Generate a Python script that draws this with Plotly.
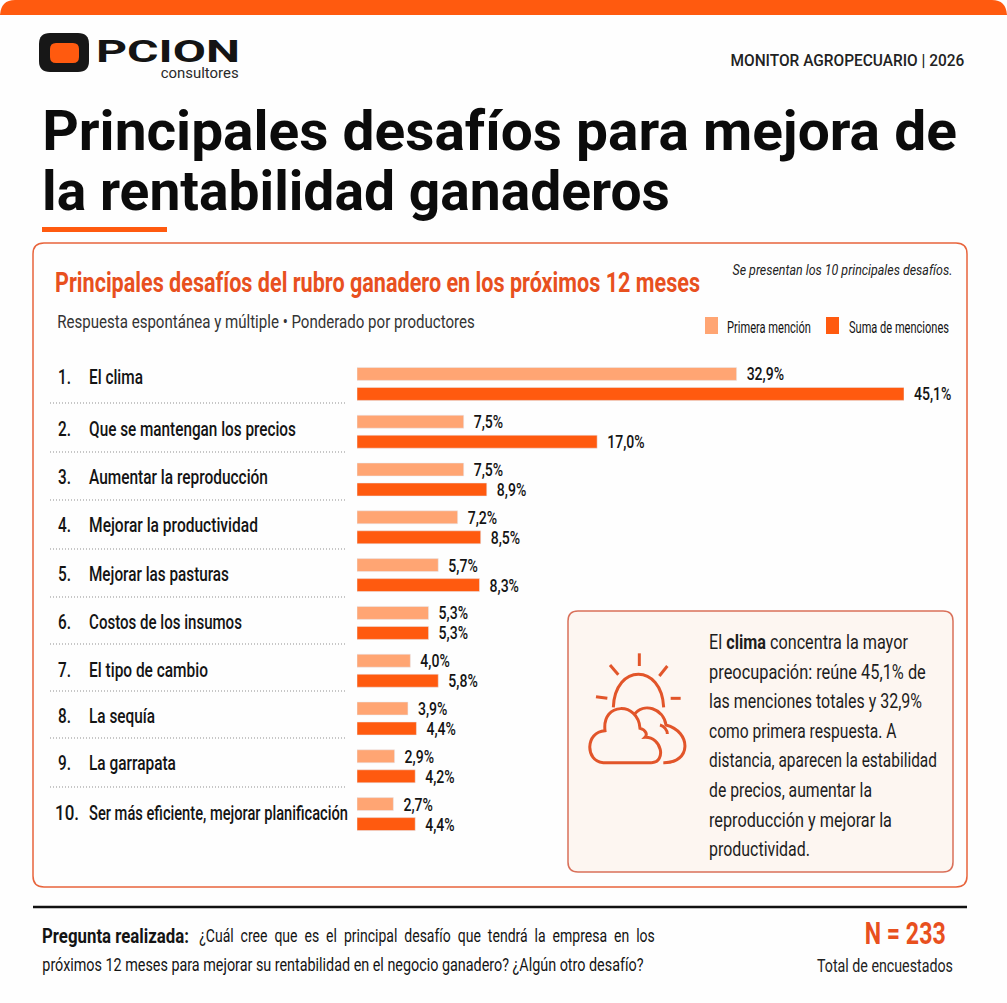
import plotly.graph_objects as go

W, H = 1007, 1003
ORANGE = "#FF5A0F"
PEACH = "#FFA573"
EDGE = "#E8643C"
INK = "#141414"

categorias = ["El clima", "Que se mantengan los precios", "Aumentar la reproducción",
              "Mejorar la productividad", "Mejorar las pasturas", "Costos de los insumos",
              "El tipo de cambio", "La sequía", "La garrapata",
              "Ser más eficiente, mejorar planificación"]
# Printed values (used for the labels)
primera_mencion = [32.9, 7.5, 7.5, 7.2, 5.7, 5.3, 4.0, 3.9, 2.9, 2.7]
suma_menciones = [45.1, 17.0, 8.9, 8.5, 8.3, 5.3, 5.8, 4.4, 4.2, 4.4]
# Bar lengths as drawn in the source, which is not strictly proportional to its labels
# (read on an axis where the longest bar equals 45.1)
primera_dibujada = [31.3, 8.8, 8.8, 8.3, 6.7, 5.9, 4.4, 4.2, 3.1, 3.0]
suma_dibujada = [45.1, 19.8, 10.7, 10.2, 10.1, 5.9, 6.7, 4.9, 4.8, 4.8]
texto_recuadro = ["El <b>clima</b> concentra la mayor", "preocupación: reúne 45,1% de",
                  "las menciones totales y 32,9%", "como primera respuesta. A",
                  "distancia, aparecen la estabilidad", "de precios, aumentar la",
                  "reproducción y mejorar la", "productividad."]
# Layout only: rendered widths of the condensed texts, in pixels
anchos_filas = [54, 207, 179, 169, 140, 153, 119, 66, 87, 259]
anchos_recuadro = [199, 217, 213, 188, 228, 163, 183, 101]


def fam(width, anchor):
    # Roboto is squeezed horizontally to a target width by the script at the end of the page
    return f"Roboto, w{width}{anchor[0]}"


def fmt(v):
    return "\u00a0\u00a0" + f"{v:.1f}%".replace(".", ",")


def X(p):
    return p / W


def Y(p):
    return 1 - p / H


def rrect(x0, y0, x1, y1, r, **kw):
    p = (f"M {X(x0+r)} {Y(y0)} L {X(x1-r)} {Y(y0)} Q {X(x1)} {Y(y0)} {X(x1)} {Y(y0+r)} "
         f"L {X(x1)} {Y(y1-r)} Q {X(x1)} {Y(y1)} {X(x1-r)} {Y(y1)} "
         f"L {X(x0+r)} {Y(y1)} Q {X(x0)} {Y(y1)} {X(x0)} {Y(y1-r)} "
         f"L {X(x0)} {Y(y0+r)} Q {X(x0)} {Y(y0)} {X(x0+r)} {Y(y0)} Z")
    return dict(type="path", path=p, xref="paper", yref="paper", **kw)


def rect(x0, y0, x1, y1, color):
    return dict(type="rect", xref="paper", yref="paper", x0=X(x0), x1=X(x1), y0=Y(y0), y1=Y(y1),
                fillcolor=color, line_width=0, layer="below")


def hline(x0, x1, y, color, width, dash="solid"):
    return dict(type="line", xref="paper", yref="paper", x0=X(x0), x1=X(x1), y0=Y(y), y1=Y(y),
                line=dict(color=color, width=width, dash=dash), layer="below")


def icon(points, color="#E2552A", width=3):
    parts = []
    for cmd, *vals in points:
        coords = []
        for i in range(0, len(vals), 2):
            coords += [str(X(560 + vals[i] / 3)), str(Y(600 + vals[i + 1] / 3))]
        parts.append(cmd + " " + " ".join(coords))
    return dict(type="path", path=" ".join(parts), xref="paper", yref="paper",
                line=dict(color=color, width=width))


def T(x, y, text, size, width, color=INK, anchor="left", **kw):
    return dict(xref="paper", yref="paper", x=X(x), y=Y(y), text=text, showarrow=False,
                xanchor=anchor, yanchor="middle", borderpad=0,
                font=dict(size=size, color=color, family=fam(width, anchor), **kw))


fig = go.Figure()
fig.add_bar(name="Primera mención", y=categorias, x=primera_dibujada, orientation="h",
            marker_color=PEACH, text=[fmt(v) for v in primera_mencion], textposition="outside",
            cliponaxis=False, constraintext="none",
            textfont=dict(size=19, color=INK, family="Roboto, c74", weight=500))
fig.add_bar(name="Suma de menciones", y=categorias, x=suma_dibujada, orientation="h",
            marker_color=ORANGE, text=[fmt(v) for v in suma_menciones], textposition="outside",
            cliponaxis=False, constraintext="none",
            textfont=dict(size=19, color=INK, family="Roboto, c74", weight=500))

top_bar = (f"M {X(0)} {Y(15)} Q {X(1)} {Y(0)} {X(15)} {Y(0)} L {X(W-15)} {Y(0)} "
           f"Q {X(W-1)} {Y(0)} {X(W)} {Y(15)} Z")
shapes = [
    dict(type="path", path=top_bar, xref="paper", yref="paper", fillcolor=ORANGE, line_width=0, layer="below"),
    rect(42, 227, 167, 232, ORANGE),
    rrect(33, 243, 967, 887, 11, fillcolor="rgba(0,0,0,0)", line=dict(color=EDGE, width=1.5), layer="below"),
    rrect(568, 611, 953, 872, 10, fillcolor="#FDF6F1", line=dict(color="#D9705A", width=1.5), layer="below"),
    hline(33, 967, 907, "#111111", 2.5),
    rrect(39, 33, 89, 72, 11, fillcolor="#171717", line_width=0),
    rrect(50, 43, 79, 63, 6, fillcolor=ORANGE, line_width=0),
    rect(705, 317, 718, 334, PEACH),
    rect(826, 317, 839, 334, ORANGE),
]
for y in [403, 452, 500, 549, 597, 644, 691, 738, 787]:
    shapes.append(hline(50, 347, y, "#8f8f8f", 1, "1px,2px"))

# Weather icon
shapes += [
    icon([("M", 160, 322), ("C", 165, 190, 305, 190, 311, 322)]),
    icon([("M", 238, 160), ("L", 238, 198)]),
    icon([("M", 150, 195), ("L", 175, 224)]),
    icon([("M", 322, 198), ("L", 298, 228)]),
    icon([("M", 108, 290), ("L", 142, 295)]),
    icon([("M", 332, 295), ("L", 362, 295)]),
    icon([("M", 275, 488), ("L", 130, 488), ("C", 75, 485, 75, 395, 135, 392),
          ("C", 125, 305, 235, 305, 240, 385), ("C", 260, 390, 262, 405, 255, 412),
          ("C", 305, 410, 320, 485, 275, 488)]),
    icon([("M", 222, 345), ("C", 250, 305, 310, 325, 318, 375), ("C", 395, 395, 395, 490, 310, 488)]),
    icon([("M", 300, 375), ("C", 312, 378, 322, 390, 322, 402)]),
]

annotations = [
    T(95, 52, "PCION", 31, 144, weight=700),
    T(240, 73.5, "consultores", 14.5, 78, "#2a2a2a", "right"),
    T(965, 60, "MONITOR AGROPECUARIO | 2026", 17, 234, "#222222", "right", weight=500),
    T(41, 131, "Principales desafíos para mejora de", 56, 915, "#0b0b0b", weight=700),
    T(41, 191, "la rentabilidad ganaderos", 56, 628, "#0b0b0b", weight=700),
    T(54, 282, "Principales desafíos del rubro ganadero en los próximos 12 meses", 28, 645, "#E8501E", weight=700),
    T(953, 270, "Se presentan los 10 principales desafíos.", 15, 220, "#222222", "right", style="italic"),
    T(56, 322, "Respuesta espontánea y múltiple • Ponderado por productores", 18.5, 418, "#333333"),
    T(726, 327, "Primera mención", 16, 84),
    T(848, 327, "Suma de menciones", 16, 100),
    T(41, 936, "<b>Pregunta realizada:</b>", 20, 147),
    T(198, 936, "¿Cuál\u00a0 cree\u00a0 que\u00a0 es\u00a0 el\u00a0 principal\u00a0 desafío\u00a0 que\u00a0 tendrá\u00a0 la\u00a0 empresa\u00a0 en\u00a0 los", 18.5, 456),
    T(41, 965, "próximos 12 meses para mejorar su rentabilidad en el negocio ganadero? ¿Algún otro desafío?", 18.5, 602),
    T(905, 933, "<b>N = 233</b>", 31, 81, "#E8501E", "center"),
    T(885, 965, "Total de encuestados", 18, 136, "#222222", "center"),
]
for i, linea in enumerate(texto_recuadro):
    annotations.append(T(708, 642 + 29.6 * i, linea, 20.5, anchos_recuadro[i], "#1c1c1c"))

nudge = [7, 3, 3, 2, 1, 1, 1, 3, 3, 1]
for i, c in enumerate(categorias):
    num = f"{i + 1}."
    num_x, num_w = (57, 13) if i < 9 else (54, 24)
    for x, txt, w in ((num_x, num, num_w), (88, c, anchos_filas[i])):
        annotations.append(dict(xref="paper", yref="y", x=X(x), y=c, text=txt, showarrow=False,
                                xanchor="left", yanchor="middle", yshift=nudge[i], borderpad=0,
                                font=dict(size=20.5, color=INK, family=fam(w, "left"), weight=500)))

fig.update_layout(
    width=W, height=H, margin=dict(l=0, r=0, t=0, b=0), autosize=False,
    paper_bgcolor="#FEFEFE", plot_bgcolor="rgba(0,0,0,0)", showlegend=False,
    barmode="group", bargap=0.163, bargroupgap=0.35,
    xaxis=dict(domain=[X(357), X(904)], range=[0, 45.1], visible=False, fixedrange=True),
    yaxis=dict(domain=[1 - 838 / H, 1 - 360 / H], autorange="reversed", visible=False,
               type="category", fixedrange=True),
    shapes=shapes, annotations=annotations,
)

SQUEEZE = """
document.body.style.margin='0';
document.documentElement.style.overflow='hidden';
document.querySelectorAll('svg text').forEach(function(el){
  var f = el.style.fontFamily || '';
  var m = f.match(/w(\\d+)([lcr])/), c = f.match(/c(\\d\\d)\\b/);
  if(!m && !c) return;
  var b = el.getBBox();
  if(!b.width) return;
  var sx, px;
  if(m){
    sx = parseFloat(m[1]) / b.width;
    px = m[2]==='l' ? b.x : (m[2]==='r' ? b.x + b.width : b.x + b.width/2);
  } else {
    sx = parseFloat(c[1]) / 100;
    px = b.x;
  }
  var t = el.getAttribute('transform') || '';
  el.setAttribute('transform', t + ' translate(' + px + ',0) scale(' + sx + ',1) translate(' + (-px) + ',0)');
});
"""
fig.write_html("out.html", post_script=SQUEEZE, config={"displayModeBar": False})
